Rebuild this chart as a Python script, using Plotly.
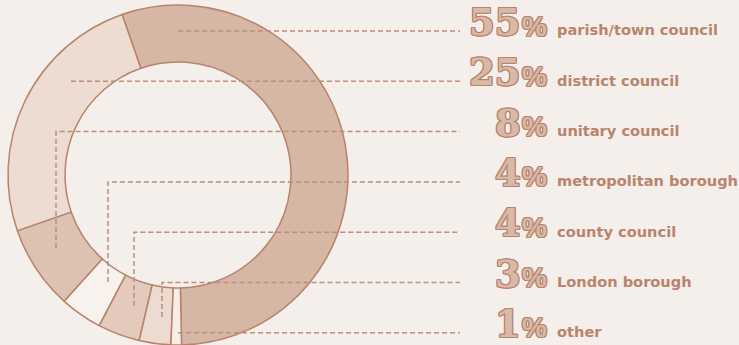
import plotly.graph_objects as go

# ---- data ----
categories = ["parish/town council", "district council", "unitary council",
              "metropolitan borough", "county council", "London borough", "other"]
shares = [55, 25, 8, 4, 4, 3, 1]
slice_colors = ["#d6b6a4", "#ecdcd2", "#dcc2b3", "#f8f2ee", "#e3cabc", "#ecdbd1", "#f6eee9"]

# ---- layout constants (pixels) ----
W, H = 739, 345
BG = "#f4efeb"
EDGE = "#b9826b"
cx, cy, R_out = 178, 175, 170
row_y0, row_step = 31, 50.3
leader_start_x = [178, 71, 56, 108, 134, 162, 178]
leader_drop_y = [None, None, 248, 282, 306, 317, None]
leader_end_x = 460
num_right_x = 523
pct_left_x = 520
label_left_x = 555


def px(x):
    return x / W


def py(y):
    return 1 - y / H


fig = go.Figure()
fig.add_trace(go.Pie(
    labels=categories, values=shares, sort=False, direction="counterclockwise",
    rotation=-19.2, hole=113 / 170, textinfo="none",
    marker=dict(colors=slice_colors, line=dict(color=EDGE, width=1.5)),
    domain=dict(x=[px(cx - R_out), px(cx + R_out)], y=[py(cy + R_out), py(cy - R_out)]),
    hovertemplate="%{label}: %{value}%<extra></extra>",
))

shapes = []
annotations = []
outline = ",".join(f"{dx}px {dy}px 0 {EDGE}" for dx, dy in
                   [(1, 0), (-1, 0), (0, 1), (0, -1), (1, 1), (-1, -1), (1, -1), (-1, 1)])
for i, (cat, v) in enumerate(zip(categories, shares)):
    ry = row_y0 + i * row_step
    sx = leader_start_x[i]
    if leader_drop_y[i] is not None:
        path = f"M {px(sx)} {py(leader_drop_y[i])} L {px(sx)} {py(ry)} L {px(leader_end_x)} {py(ry)}"
    else:
        path = f"M {px(sx)} {py(ry)} L {px(leader_end_x)} {py(ry)}"
    shapes.append(dict(type="path", xref="paper", yref="paper", path=path,
                       line=dict(color="#bd8f7a", width=1.5, dash="5px,3px")))
    annotations.append(dict(
        x=px(num_right_x), y=py(ry - 9), xref="paper", yref="paper",
        xanchor="right", yanchor="middle", showarrow=False, text=str(v),
        font=dict(family="DejaVu Serif", size=37, color="#d8b9a7", weight="bold",
                  shadow=outline)))
    annotations.append(dict(
        x=px(pct_left_x), y=py(ry - 5), xref="paper", yref="paper",
        xanchor="left", yanchor="middle", showarrow=False, text="%",
        font=dict(family="Liberation Sans", size=28, color="#d8b9a7", weight="bold",
                  shadow=outline)))
    annotations.append(dict(
        x=px(label_left_x), y=py(ry - 1), xref="paper", yref="paper",
        xanchor="left", yanchor="middle", showarrow=False, text=cat,
        font=dict(family="DejaVu Sans", size=14.6, color="#b9846d", weight="bold")))

fig.update_layout(
    width=W, height=H, margin=dict(l=0, r=0, t=0, b=0),
    paper_bgcolor=BG, plot_bgcolor=BG, showlegend=False,
    shapes=shapes, annotations=annotations,
)
fig.write_html("out.html")
